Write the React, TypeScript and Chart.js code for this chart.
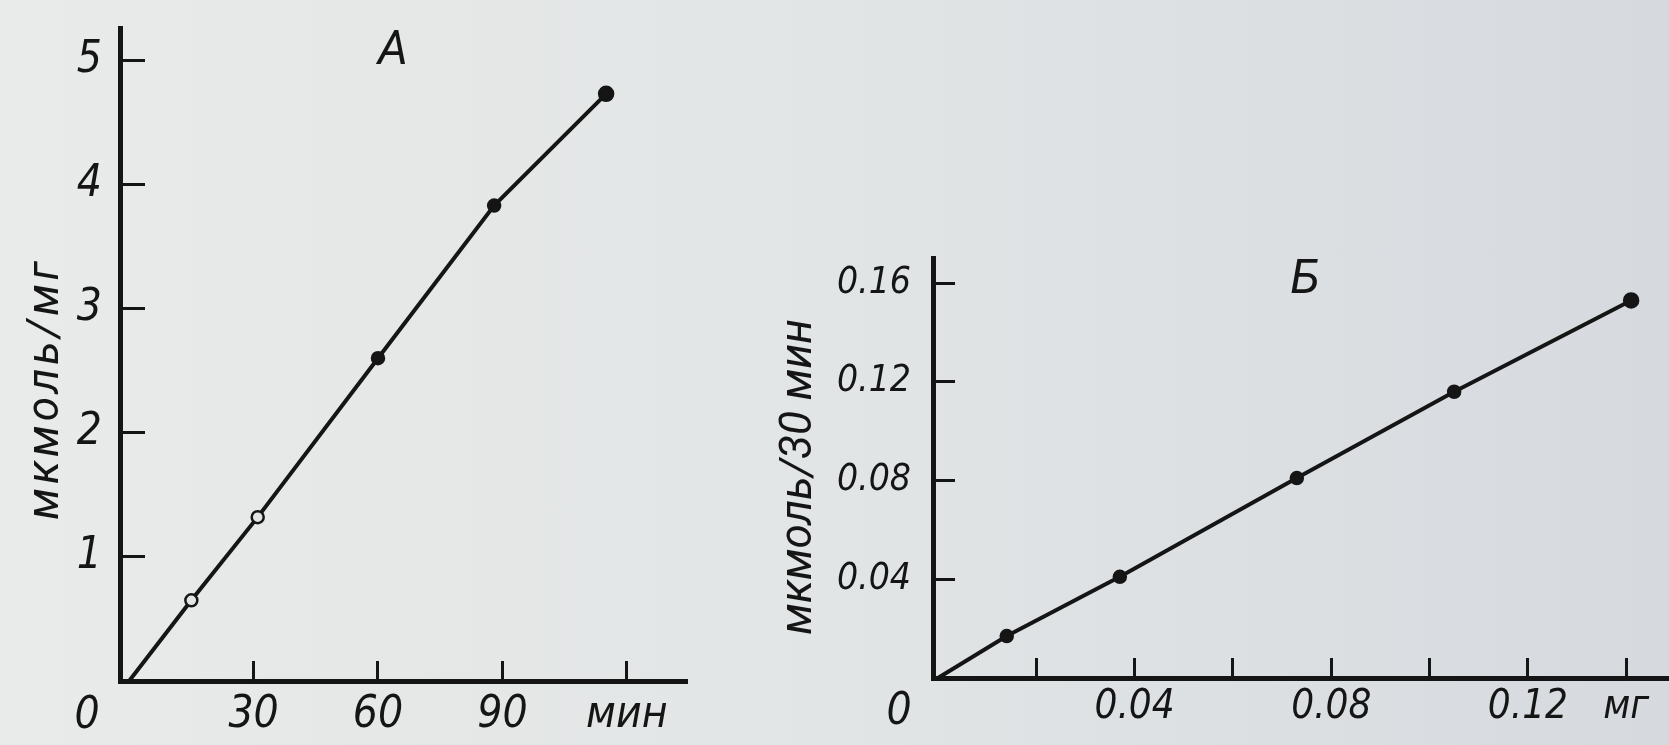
import React, { useEffect, useRef } from 'react';
import { Chart, registerables } from 'chart.js';

Chart.register(...registerables);

// ---------- Data: panel А (amount vs time) ----------
const A_TIME = [0, 15, 31, 60, 88, 115];
const A_AMOUNT = [0, 0.65, 1.32, 2.6, 3.83, 4.73];
const A_X_TICKS = [30, 60, 90, 120];
const A_X_TICK_LABELS = ['30', '60', '90', 'мин'];
const A_Y_TICKS = [1, 2, 3, 4, 5];
const A_Y_TICK_LABELS = ['1', '2', '3', '4', '5'];
const A_LETTER = 'А';
const A_Y_TITLE = 'мкмоль/мг';

// ---------- Data: panel Б (rate vs protein mass) ----------
const B_MASS = [0, 0.014, 0.037, 0.073, 0.105, 0.141];
const B_RATE = [0, 0.017, 0.041, 0.081, 0.116, 0.153];
const B_X_TICKS = [0.02, 0.04, 0.06, 0.08, 0.1, 0.12, 0.14];
const B_X_TICK_LABELS = ['', '0.04', '', '0.08', '', '0.12', 'мг'];
const B_Y_TICKS = [0.04, 0.08, 0.12, 0.16];
const B_Y_TICK_LABELS = ['0.04', '0.08', '0.12', '0.16'];
const B_LETTER = 'Б';
const B_Y_TITLE = 'мкмоль/30 мин';

const ORIGIN_LABEL = '0';

const INK = '#151515';
const PAPER = '#e3e5e5';
const NARROW = "'Liberation Sans Narrow', 'DejaVu Sans Condensed', Roboto, sans-serif";
const WIDE = "Roboto, 'Liberation Sans', sans-serif";

const lookup = (ticks: number[], labels: string[]) => (value: number) => {
  const i = ticks.findIndex((t) => Math.abs(t - value) < 1e-9);
  return i >= 0 ? labels[i] : '';
};

const textPlugin = {
  id: 'panelText',
  afterDraw(chart: any, _args: any, opts: any) {
    const { ctx } = chart;
    const xs = chart.scales.x;
    ctx.save();
    ctx.fillStyle = INK;
    ctx.textAlign = 'center';
    ctx.textBaseline = 'middle';
    // panel letter
    ctx.font = `italic 48px ${WIDE}`;
    ctx.fillText(opts.letter, opts.letterX, opts.letterY);
    // origin label
    ctx.font = `italic ${opts.originSize}px ${NARROW}`;
    ctx.fillText(ORIGIN_LABEL, xs.left - opts.originDx, xs.top + opts.originDy);
    // y-axis title
    ctx.translate(opts.titleX, opts.titleY);
    ctx.rotate(-Math.PI / 2);
    ctx.font = `italic 44px ${WIDE}`;
    (ctx as any).letterSpacing = opts.titleSpacing + 'px';
    ctx.fillText(opts.title, 0, 0);
    ctx.restore();
  },
};

const noScalePadding = (s: any) => {
  s.paddingTop = 0;
  s.paddingBottom = 0;
  s.paddingLeft = 0;
  s.paddingRight = 0;
};

function makeConfig(p: any) {
  const tickFont = { family: NARROW, style: 'italic' as const, lineHeight: 1.2 };
  return {
    type: 'line' as const,
    data: {
      datasets: [
        {
          data: p.xs.map((x: number, i: number) => ({ x, y: p.ys[i] })),
          borderColor: INK,
          borderWidth: 4,
          tension: 0,
          fill: false,
          clip: false,
          pointRadius: p.pointRadius,
          pointBackgroundColor: p.pointFill,
          pointBorderColor: INK,
          pointBorderWidth: 2.5,
        },
      ],
    },
    options: {
      animation: false,
      responsive: false,
      maintainAspectRatio: false,
      events: [],
      layout: { padding: p.padding, autoPadding: false },
      plugins: {
        legend: { display: false },
        tooltip: { enabled: false },
        title: { display: false },
        panelText: p.text,
      },
      scales: {
        x: {
          type: 'linear',
          min: p.xMin,
          max: p.xMax,
          afterBuildTicks: (s: any) => {
            s.ticks = p.xTicks.map((v: number) => ({ value: v }));
          },
          afterFit: (s: any) => {
            s.height = p.xHeight;
            noScalePadding(s);
          },
          grid: {
            drawOnChartArea: false,
            drawTicks: true,
            tickLength: -p.xTickLen,
            tickWidth: 3,
            tickColor: INK,
          },
          border: { display: true, color: INK, width: 5 },
          ticks: {
            autoSkip: false,
            maxRotation: 0,
            padding: p.xTickPad,
            color: INK,
            font: { ...tickFont, size: p.xFontSize },
            callback: lookup(p.xTicks, p.xTickLabels),
          },
        },
        y: {
          type: 'linear',
          min: p.yMin,
          max: p.yMax,
          afterBuildTicks: (s: any) => {
            s.ticks = p.yTicks.map((v: number) => ({ value: v }));
          },
          afterFit: (s: any) => {
            s.width = p.yWidth;
            noScalePadding(s);
          },
          grid: {
            drawOnChartArea: false,
            drawTicks: true,
            tickLength: -p.yTickLen,
            tickWidth: 3,
            tickColor: INK,
          },
          border: { display: true, color: INK, width: 5 },
          ticks: {
            autoSkip: false,
            padding: p.yTickPad,
            color: INK,
            font: { ...tickFont, size: p.yFontSize },
            callback: lookup(p.yTicks, p.yTickLabels),
          },
        },
      },
    },
    plugins: [textPlugin],
  };
}

const PANEL_A = {
  xs: A_TIME,
  ys: A_AMOUNT,
  xMin: -2.2,
  xMax: 134.5,
  yMin: 0,
  yMax: 5.26,
  xTicks: A_X_TICKS,
  xTickLabels: A_X_TICK_LABELS,
  yTicks: A_Y_TICKS,
  yTickLabels: A_Y_TICK_LABELS,
  padding: { left: 0, top: 28, right: 33, bottom: 0 },
  xHeight: 64,
  yWidth: 120,
  xTickLen: 20,
  yTickLen: 25,
  xTickPad: 28,
  yTickPad: 43,
  xFontSize: 44,
  yFontSize: 44,
  pointRadius: [0, 6, 6, 6, 6, 7],
  pointFill: [INK, PAPER, PAPER, INK, INK, INK],
  text: {
    letter: A_LETTER,
    letterX: 393,
    letterY: 52,
    originSize: 44,
    originDx: 33,
    originDy: 36,
    title: A_Y_TITLE,
    titleX: 47,
    titleY: 389,
    titleSpacing: 4,
  },
};

const PANEL_B = {
  xs: B_MASS,
  ys: B_RATE,
  xMin: -0.001,
  xMax: 0.1487,
  yMin: 0,
  yMax: 0.1702,
  xTicks: B_X_TICKS,
  xTickLabels: B_X_TICK_LABELS,
  yTicks: B_Y_TICKS,
  yTickLabels: B_Y_TICK_LABELS,
  padding: { left: 0, top: 258, right: 0, bottom: 0 },
  xHeight: 67,
  yWidth: 213,
  xTickLen: 20,
  yTickLen: 22,
  xTickPad: 26,
  yTickPad: 44,
  xFontSize: 40,
  yFontSize: 37,
  pointRadius: [0, 6, 6, 6, 6, 7],
  pointFill: [INK, INK, INK, INK, INK, INK],
  text: {
    letter: B_LETTER,
    letterX: 585,
    letterY: 281,
    originSize: 44,
    originDx: 34,
    originDy: 35,
    title: B_Y_TITLE,
    titleX: 80,
    titleY: 477,
    titleSpacing: 0,
  },
};

function Panel({ cfg, left, width }: { cfg: any; left: number; width: number }) {
  const ref = useRef<HTMLCanvasElement>(null);
  useEffect(() => {
    if (!ref.current) return;
    const chart = new Chart(ref.current, makeConfig(cfg) as any);
    return () => chart.destroy();
  }, [cfg]);
  return (
    <canvas
      ref={ref}
      width={width}
      height={745}
      style={{ position: 'absolute', left, top: 0, width, height: 745 }}
    />
  );
}

export default function App() {
  return (
    <div
      style={{
        position: 'fixed',
        left: 0,
        top: 0,
        width: 1669,
        height: 745,
        overflow: 'hidden',
        background: 'linear-gradient(90deg, #e9eaea 0%, #e3e6e6 45%, #d6dadf 100%)',
      }}
    >
      <Panel cfg={PANEL_A} left={0} width={720} />
      <Panel cfg={PANEL_B} left={720} width={949} />
    </div>
  );
}
